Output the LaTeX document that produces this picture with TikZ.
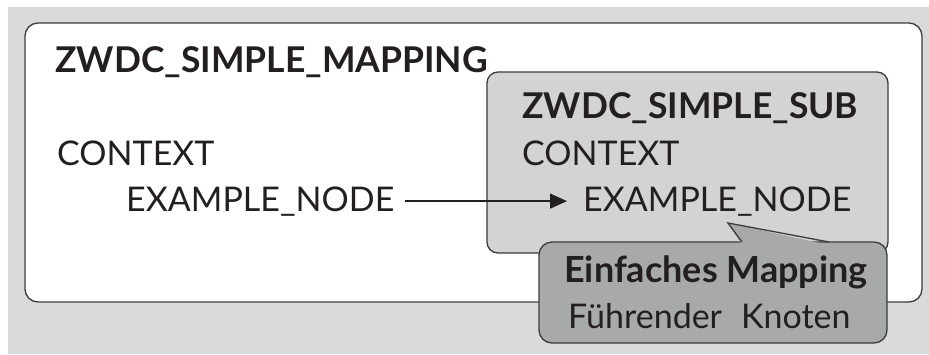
\documentclass[tikz,border=0pt]{standalone}
\usepackage{fontspec}
\setmainfont{Lato}
\usetikzlibrary{positioning,arrows.meta}
\definecolor{pagegray}{HTML}{D9DAD9}
\definecolor{subgray}{HTML}{D2D3D2}
\definecolor{calloutgray}{HTML}{A8AAA9}
\definecolor{boxline}{HTML}{3C3C3C}
\definecolor{inkblack}{HTML}{231F20}
\tikzset{
    box-line/.style = {draw=boxline, line width=1.3pt},
    plain-label/.style = {anchor=base west, inner sep=0pt, text=inkblack, font=\fontsize{34}{38}\selectfont},
    bold-label/.style = {plain-label, font=\fontsize{35.5}{40}\selectfont\bfseries},
    flow-arrow/.style = {draw=inkblack, line width=1.3pt, -{Triangle[length=17pt,width=15pt]}},
}

\begin{document}
\begin{tikzpicture}[x=1pt,y=-1pt]
\useasboundingbox (0,0) rectangle (929,354);
\fill[white] (0,0) rectangle (929,354);
\fill[pagegray] (8,7) rectangle (929,354);
% outer mapping box
\draw[box-line, fill=white, rounded corners=13pt] (25,23) rectangle (922,302);
\node[bold-label] (title) at (55,72) {ZWDC\_SIMPLE\_MAPPING};
\node[plain-label] (ctx) at (57,165) {CONTEXT};
\node[plain-label] (exnode) at (126,211) {EXAMPLE\_NODE};
% sub box
\draw[box-line, fill=subgray, rounded corners=11pt] (487,72) rectangle (888,253);
\node[bold-label] (subtitle) at (522,118) {ZWDC\_SIMPLE\_SUB};
\node[plain-label] (subctx) at (522,165) {CONTEXT};
\node[plain-label] (subnode) at (583,211) {EXAMPLE\_NODE};
\draw[flow-arrow, shorten <=11pt, shorten >=16pt] (exnode.east) -- (subnode.west);
% callout
\draw[box-line, fill=calloutgray, rounded corners=13pt] (539,242) rectangle (887,343);
\fill[calloutgray] (742,245) -- (728,223) -- (829,245) -- cycle;
\draw[box-line] (742,242) -- (728,223) -- (829,242);
\node[bold-label, font=\fontsize{36}{40}\selectfont\bfseries] (calloutTitle) at (564,282) {Einfaches Mapping};
\node[plain-label] (calloutText) at (568,328) {Führender\hspace{19pt}Knoten};
\end{tikzpicture}
\end{document}
